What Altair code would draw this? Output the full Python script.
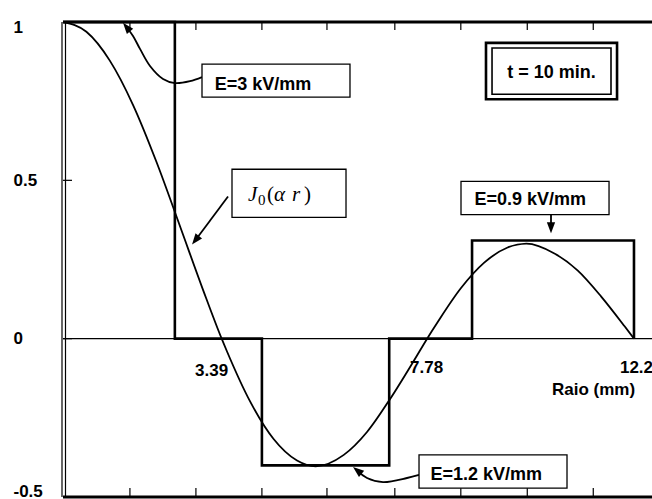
import altair as alt
import pandas as pd

# J0(alpha r) profile along the radius (mm), normalised to 1 at the centre
radius = [0, 0.5, 1.0, 1.5, 2.0, 2.5, 3.0, 3.39, 3.5, 4.0, 4.5, 5.0, 5.4, 6.0,
          6.5, 7.0, 7.5, 7.78, 8.0, 8.5, 9.0, 9.5, 9.9, 10.5, 11.0, 11.5, 12.0, 12.2]
j0_value = [1.000, 0.969, 0.878, 0.737, 0.557, 0.355, 0.151, 0.0, -0.039, -0.199,
            -0.317, -0.385, -0.403, -0.367, -0.294, -0.188, -0.069, 0.0, 0.051,
            0.159, 0.240, 0.288, 0.300, 0.269, 0.215, 0.133, 0.039, 0.0]

# Electrode field steps (normalised to 3 kV/mm)
step_edges = [0, 2.39, 4.25, 6.97, 8.74, 12.2]
step_levels = [1.0, 0.0, -0.4, 0.0, 0.31]

y_ticks = [-0.5, 0, 0.5, 1]
x_ticks = [1.43, 2.84, 4.25, 5.64, 7.09, 8.50, 9.92, 11.33]

zero_labels = ["3.39", "7.78", "12.2"]
field_labels = ["E=3 kV/mm", "E=0.9 kV/mm", "E=1.2 kV/mm"]
time_label = "t = 10 min."
x_title = "Raio (mm)"

SANS = "Liberation Sans, Arial, sans-serif"
SERIF = "Liberation Serif, Times New Roman, serif"

X_SCALE = alt.Scale(domain=[0, 12.585], nice=False, zero=False)
Y_SCALE = alt.Scale(domain=[-0.5, 1], nice=False, zero=False)

Y_AXIS = alt.Axis(
    values=y_ticks,
    labelExpr="datum.value < 0 ? '-' + format(-datum.value, '') : format(datum.value, '')",
    labelFont=SANS, labelFontSize=17, labelFontWeight="bold", labelColor="black",
    labelAlign="left", labelPadding=50, labelFlush=True, labelFlushOffset=3,
    ticks=False, tickSize=0, domain=False, grid=False, title=None,
)


def X(field="x"):
    return alt.X(f"{field}:Q", scale=X_SCALE, axis=None)


def Y(field="y"):
    return alt.Y(f"{field}:Q", scale=Y_SCALE, axis=Y_AXIS)


# ---- data tables -------------------------------------------------------
curve_df = pd.DataFrame({"x": radius, "y": j0_value})

step_pts = []
for i, lvl in enumerate(step_levels):
    step_pts.append((step_edges[i], lvl))
    step_pts.append((step_edges[i + 1], lvl))
step_pts.append((step_edges[-1], 0.0))
step_df = pd.DataFrame(step_pts, columns=["x", "y"])
step_df["seq"] = range(len(step_df))

ytick_df = pd.DataFrame({"y": y_ticks})
xtick_df = pd.DataFrame({"x": x_ticks})

boxes_df = pd.DataFrame([
    {"x": 2.970, "x2": 6.132, "y": 0.867, "y2": 0.763},
    {"x": 3.611, "x2": 6.047, "y": 0.535, "y2": 0.383},
    {"x": 8.504, "x2": 11.667, "y": 0.497, "y2": 0.392},
    {"x": 7.607, "x2": 10.769, "y": -0.367, "y2": -0.472},
])
time_outer_df = pd.DataFrame([{"x": 9.038, "x2": 11.838, "y": 0.934, "y2": 0.756}])
time_inner_df = pd.DataFrame([{"x": 9.167, "x2": 11.709, "y": 0.918, "y2": 0.772}])

field_text_df = pd.DataFrame({
    "x": [3.241, 8.791, 7.850],
    "y": [0.785, 0.421, -0.446],
    "text": field_labels,
})
time_text_df = pd.DataFrame({"x": [10.438], "y": [0.823], "text": [time_label]})
zero_text_df = pd.DataFrame({
    "x": [2.821, 7.415, 11.90, 10.449],
    "y": [-0.117, -0.108, -0.108, -0.177],
    "text": zero_labels + [x_title],
})

# J0(alpha r) written piece by piece: italic symbols, upright digits/brackets
j0_italic_df = pd.DataFrame({"x": [3.953, 4.509, 4.893], "y": [0.4335] * 3,
                             "text": ["J", "\u03b1", "r"]})
j0_upright_df = pd.DataFrame({"x": [4.359, 5.150], "y": [0.4335] * 2,
                              "text": ["(", ")"]})
j0_sub_df = pd.DataFrame({"x": [4.167], "y": [0.421], "text": ["0"]})

arrow_paths = {
    "e3": [(2.970, 0.826), (2.714, 0.813), (2.393, 0.807), (2.137, 0.820),
           (1.859, 0.861), (1.645, 0.915), (1.496, 0.956), (1.368, 0.981)],
    "j0": [(3.526, 0.449), (2.829, 0.311)],
    "e09": [(10.427, 0.392), (10.427, 0.350)],
    "e12": [(7.607, -0.430), (7.350, -0.440), (6.838, -0.453), (6.496, -0.440),
            (6.288, -0.416)],
}
arrow_rows = []
for name, pts in arrow_paths.items():
    for k, (ax, ay) in enumerate(pts):
        arrow_rows.append({"arrow": name, "seq": k, "x": ax, "y": ay})
arrow_df = pd.DataFrame(arrow_rows)

head_df = pd.DataFrame({
    "x": [1.357, 2.829, 10.427, 6.288],
    "y": [0.984, 0.311, 0.350, -0.416],
    "angle": [320, 218, 180, 309],
})

# ---- layers --------------------------------------------------------------
frame_top = alt.Chart(pd.DataFrame({"y": [1.0]})).mark_rule(
    color="black", strokeWidth=3).encode(y=Y())
frame_bottom = alt.Chart(pd.DataFrame({"y": [-0.5]})).mark_rule(
    color="black", strokeWidth=3).encode(y=Y())
zero_line = alt.Chart(pd.DataFrame({"y": [0.0]})).mark_rule(
    color="black", strokeWidth=1.3).encode(y=Y())
left_a = alt.Chart(pd.DataFrame({"x": [0.0]})).mark_rule(
    color="black", strokeWidth=1.2, xOffset=-1).encode(x=X())
left_b = alt.Chart(pd.DataFrame({"x": [0.0]})).mark_rule(
    color="black", strokeWidth=1.2, xOffset=2.5).encode(x=X())

ytick_marks = alt.Chart(ytick_df).mark_rule(color="black", strokeWidth=1.2).encode(
    y=Y(), x=alt.value(0), x2=alt.value(9))
xtick_bottom = alt.Chart(xtick_df).mark_rule(color="black", strokeWidth=1.2).encode(
    x=X(), y=alt.value(475), y2=alt.value(466))
xtick_top = alt.Chart(xtick_df).mark_rule(color="black", strokeWidth=1.2).encode(
    x=X(), y=alt.value(0), y2=alt.value(8))

curve = alt.Chart(curve_df).mark_line(
    color="black", strokeWidth=1.8, interpolate="monotone").encode(x=X(), y=Y())
steps = alt.Chart(step_df).mark_line(
    color="black", strokeWidth=2.6, strokeJoin="miter").encode(
    x=X(), y=Y(), order="seq:Q")

arrows = alt.Chart(arrow_df).mark_line(
    color="black", strokeWidth=1.8, interpolate="catmull-rom").encode(
    x=X(), y=Y(), detail="arrow:N", order="seq:Q")
heads = alt.Chart(head_df).mark_point(
    shape="M0,-1L0.75,1L-0.75,1Z", filled=True, color="black", opacity=1,
    size=121, strokeWidth=0).encode(
    x=X(), y=Y(), angle=alt.Angle("angle:Q", scale=None))

boxes = alt.Chart(boxes_df).mark_rect(
    fill="white", stroke="black", strokeWidth=1.3).encode(
    x=X(), x2="x2:Q", y=Y(), y2="y2:Q")
time_outer = alt.Chart(time_outer_df).mark_rect(
    fill="white", stroke="black", strokeWidth=2.6).encode(
    x=X(), x2="x2:Q", y=Y(), y2="y2:Q")
time_inner = alt.Chart(time_inner_df).mark_rect(
    fill="white", stroke="black", strokeWidth=1.6).encode(
    x=X(), x2="x2:Q", y=Y(), y2="y2:Q")

field_text = alt.Chart(field_text_df).mark_text(
    align="left", baseline="alphabetic", font=SANS, fontSize=18,
    fontWeight="bold", color="black").encode(x=X(), y=Y(), text="text:N")
time_text = alt.Chart(time_text_df).mark_text(
    align="center", baseline="alphabetic", font=SANS, fontSize=18,
    fontWeight="bold", color="black").encode(x=X(), y=Y(), text="text:N")
zero_text = alt.Chart(zero_text_df).mark_text(
    align="left", baseline="alphabetic", font=SANS, fontSize=17,
    fontWeight="bold", color="black").encode(x=X(), y=Y(), text="text:N")

j0_italic = alt.Chart(j0_italic_df).mark_text(
    align="left", baseline="alphabetic", font=SERIF, fontSize=21,
    fontStyle="italic", color="black").encode(x=X(), y=Y(), text="text:N")
j0_upright = alt.Chart(j0_upright_df).mark_text(
    align="left", baseline="alphabetic", font=SERIF, fontSize=21,
    color="black").encode(x=X(), y=Y(), text="text:N")
j0_sub = alt.Chart(j0_sub_df).mark_text(
    align="left", baseline="alphabetic", font=SERIF, fontSize=15,
    color="black").encode(x=X(), y=Y(), text="text:N")

chart = alt.layer(
    frame_top, frame_bottom, zero_line, left_a, left_b,
    ytick_marks, xtick_bottom, xtick_top,
    curve, steps, arrows, heads,
    boxes, time_outer, time_inner,
    field_text, time_text, zero_text,
    j0_italic, j0_upright, j0_sub,
).properties(
    width=589, height=475,
    autosize=alt.AutoSizeParams(type="none"),
    padding={"left": 63, "top": 22, "right": 0, "bottom": 2},
    background="white",
).configure_view(strokeWidth=0)

chart.save("out.html", embed_options={"renderer": "svg", "actions": False})
